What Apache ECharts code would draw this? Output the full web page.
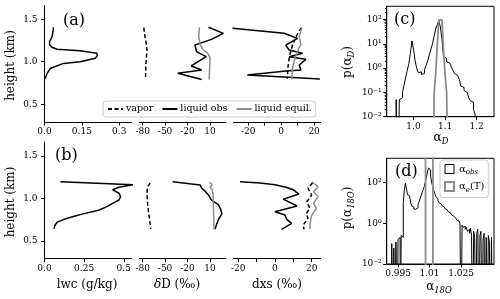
<!DOCTYPE html>
<html><head><meta charset="utf-8">
<script src="https://cdn.jsdelivr.net/npm/echarts@6/dist/echarts.min.js"></script>
<style>html,body{margin:0;padding:0;background:#fff}#c{width:500px;height:299px}</style>
</head><body><div id="c"></div>
<script>
// ---------- Panel (a) profiles: heights (km) and values ----------
const lwcA_h = [1.405,1.35,1.294,1.235,1.196,1.17,1.146,1.13,1.10,1.07,1.04,1.00,0.98,0.92,0.86,0.80];
const lwcA   = [0.036,0.034,0.030,0.020,0.021,0.030,0.050,0.143,0.210,0.212,0.204,0.143,0.076,0.023,0.010,0.003];
const vapDA_h = [1.40,1.30,1.20,1.14,1.05,0.95,0.85,0.80];
const vapDA   = [-78.5,-77,-75,-74.3,-75,-75.8,-76,-76.3];
const obsDA_h = [1.405,1.334,1.263,1.196,1.118,1.059,0.95,0.902,0.864,0.79];
const obsDA   = [8,28,12,-10,-8,5,-15,-1,-33,-1];
const eqDA_h  = [1.405,1.30,1.20,1.15,1.10,1.05,1.00,0.90,0.79];
const eqDA    = [-4,-5,-3,0,7,10,10,9.5,9];
const vapXA_h = [1.40,1.35,1.29,1.20,1.10,1.00,0.90,0.80];
const vapXA   = [12.5,10.5,9,7,5.5,4.5,4,3.8];
const obsXA_h = [1.393,1.334,1.275,1.196,1.138,1.099,1.059,1.028,0.961,0.902,0.89,0.843,0.797];
const obsXA   = [-29.5,1.8,10,2.8,4.9,13,4.9,15,11,12,3,-20.5,23.5];
const eqXA_h  = [1.40,1.36,1.30,1.20,1.15,1.05,0.98,0.90,0.79];
const eqXA    = [12.5,12,11,12,10.5,8.5,7.5,6.8,6.5];

// ---------- Panel (b) profiles ----------
const lwcB_h = [1.195,1.16,1.13,1.10,1.06,1.02,0.98,0.94,0.90,0.86,0.82,0.78,0.75,0.72,0.68,0.64];
const lwcB   = [0.10,0.56,0.47,0.43,0.47,0.48,0.47,0.43,0.39,0.34,0.25,0.17,0.12,0.08,0.065,0.06];
const vapDB_h = [1.18,1.15,1.10,1.00,0.90,0.80,0.70,0.64];
const vapDB   = [-70,-72.5,-74,-74,-73,-71.5,-70,-69];
const obsDB_h = [1.195,1.156,1.12,1.08,1.04,0.98,0.93,0.88,0.82,0.745,0.635];
const obsDB   = [-40,-3,-1,4,8,12,21,24,26,21,16.7];
const eqDB_h  = [1.19,1.16,1.13,1.10,1.06,1.00,0.80,0.635];
const eqDB    = [10,13,10,13,14,14.5,15,15.5];
const vapXB_h = [1.184,1.118,1.039,0.96,0.882,0.82,0.765,0.686,0.635];
const vapXB   = [20.5,18,20,17.3,19,17,18,15.4,15.8];
const obsXB_h = [1.195,1.18,1.16,1.13,1.10,1.05,0.99,0.91,0.843,0.804,0.753,0.706,0.635];
const obsXB   = [-19,-8,0,6,10,13,4.5,12,0,5.4,6.4,9.1,3.6];
const eqXB_h  = [1.195,1.137,1.078,1.019,0.941,0.882,0.80,0.70,0.635];
const eqXB    = [20,23.5,21,23.5,21,22.5,20,19,19];

// ---------- Panel (c) histograms of alpha_D ----------
const histC_start = 0.945, histC_width = 0.005;
const histC_obs = [0.05,0,0.05,0.06,0.1,0.2,0.4,0.8,1.5,4,13,6,2,1.0,0.65,0.7,0.55,0.6,0.9,1.3,2.0,3.5,6,10,20,40,60,90,50,16,3,2.5,1.8,1.6,1.4,1.1,0.8,0.6,0.5,0.45,0.35,0.18,0.16,0.12,0.1,0.11,0.06,0.045,0.04,0.02,0.012];
const histCeq_start = 1.065, histCeq_width = 0.005;
const histC_eq = [0.08,0.5,8,95,100,95,6,0.5,0.1];

// ---------- Panel (d) histograms of alpha_18O ----------
const histD_start = 0.990, histD_width = 0.0005;
const histD_obs = [0,0,0,0,
  0.1,0,0.06,0,0.12,0,0.16,0.2,0,0.25,0.2,
  10,40,90,50,25,22,18,10,7,6.3,5,4.8,4.5,
  5.6,8,11,16,22,32,45,63,100,180,320,500,
  400,200,100,63,40,28,20,16,12.6,10,
  9,8,7,6.3,5.6,5,4.5,4,3.5,3.2,2.8,2.5,2.2,2,1.8,1.6,1.4,1.26,1.1,1.0,
  0,0.8,0.63,0.7,0.5,0.63,0.4,0.5,0.32,0.56,0.25,0,0.4,0.2,0,0.32,0.5,0,0.25,0.4,0,0.16,0.32,0,0.2,0,0.25,0.12,0,0.2];
const histDeq_start = 1.0081, histDeq_width = 0.0035;
const histD_eq = [3000];

// ---------- ticks ----------
const yTicksProf = [0.5, 1.0, 1.5], yLabelsProf = ['0.5','1.0','1.5'];
const xTicksLwcA = [0, 0.15, 0.3], xLabelsLwcA = ['0.0','0.15','0.3'];
const xTicksLwcB = [0, 0.25, 0.5], xLabelsLwcB = ['0.0','0.25','0.5'];
const xTicksDD = [-80,-50,-20,10], xLabelsDD = ['-80','-50','-20','10'];
const xTicksDxs = [-20,-10,0,10,20], xLabValDxs = [-20,0,20], xLabelsDxs = ['-20','0','20'];
const xTicksC = [1.0,1.1,1.2], xLabelsC = ['1.0','1.1','1.2'];
const xTicksD = [0.995,1.01,1.025], xLabelsD = ['0.995','1.01','1.025'];
const yTicksC = [0.01,0.1,1,10,100], yLabelsC = ['10⁻²','10⁻¹','10⁰','10¹','10²'];
const yTicksD = [0.01,1,100], yLabelsD = ['10⁻²','10⁰','10²'];

const FONT = 'DejaVu Serif';
const BLACK = '#000';
const GRAY = '#8c8c8c';
const TICKFS = 9;

function prof(v, h) { return v.map((x, i) => [x, h[i]]); }
const FLOOR = 1e-6;
function hist(start, w, vals) {
  const pts = [[start, FLOOR]];
  vals.forEach((v, i) => {
    const y = v > 0 ? v : FLOOR;
    pts.push([start + w * i, y], [start + w * (i + 1), y]);
  });
  pts.push([start + w * vals.length, FLOOR]);
  return pts;
}
function fmt(ticks, labels, log) {
  return function (v) {
    for (let i = 0; i < ticks.length; i++) {
      const d = log ? Math.abs(Math.log10(ticks[i]) - Math.log10(v)) : Math.abs(ticks[i] - v);
      if (d < 1e-6) return labels[i];
    }
    return '';
  };
}
function xAx(gi, min, max, ticks, labVals, labels) {
  return {
    gridIndex: gi, type: 'value', min: min, max: max,
    axisLine: {show: true, onZero: false, lineStyle: {color: BLACK, width: 1}},
    axisTick: {show: true, length: 3.5, customValues: ticks, lineStyle: {color: BLACK, width: 1}},
    axisLabel: {show: true, customValues: labVals, formatter: fmt(labVals, labels, false),
      fontFamily: FONT, fontSize: TICKFS, color: BLACK, margin: 5},
    splitLine: {show: false}
  };
}
function yProf(gi, show) {
  return {
    gridIndex: gi, type: 'value', min: 0.29, max: 1.66, show: show,
    axisLine: {show: true, onZero: false, lineStyle: {color: BLACK, width: 1}},
    axisTick: {show: true, length: 3.5, customValues: yTicksProf, lineStyle: {color: BLACK}},
    axisLabel: {show: true, customValues: yTicksProf, formatter: fmt(yTicksProf, yLabelsProf, false),
      fontFamily: FONT, fontSize: TICKFS, color: BLACK, margin: 7},
    splitLine: {show: false}
  };
}
function yLog(gi, max, ticks, labels) {
  return {
    gridIndex: gi, type: 'log', logBase: 10, min: 0.01, max: max,
    axisLine: {show: true, onZero: false, lineStyle: {color: BLACK, width: 1}},
    axisTick: {show: true, length: 3.5, customValues: ticks, lineStyle: {color: BLACK}},
    axisLabel: {show: true, customValues: ticks, formatter: fmt(ticks, labels, true),
      fontFamily: FONT, fontSize: TICKFS, color: BLACK, margin: 5},
    splitLine: {show: false}
  };
}
const minorC = [];
for (let e = -2; e <= 2; e++) for (let k = 2; k <= 9; k++) { const v = k * Math.pow(10, e); if (v < 350) minorC.push(v); }

const rowH = 116.5, topA = 5.6, topB = 142.2;
const grids = [
  {left: 44.5, top: topA, width: 87.2, height: rowH},
  {left: 139.3, top: topA, width: 86.7, height: rowH},
  {left: 233.3, top: topA, width: 87.4, height: rowH},
  {left: 44.5, top: topB, width: 87.2, height: rowH},
  {left: 139.3, top: topB, width: 86.7, height: rowH},
  {left: 233.3, top: topB, width: 87.4, height: rowH},
  {left: 386.7, top: 6.3, width: 107.3, height: 110.4, show: true, borderColor: BLACK, borderWidth: 1},
  {left: 386.7, top: 158.3, width: 107.3, height: 105.7, show: true, borderColor: BLACK, borderWidth: 1}
].map(g => Object.assign({outerBoundsMode: 'none', containLabel: false}, g));

const xAxes = [
  xAx(0, 0, 0.35, xTicksLwcA, xTicksLwcA, xLabelsLwcA),
  xAx(1, -84.5, 31.5, xTicksDD, xTicksDD, xLabelsDD),
  xAx(2, -29, 24, xTicksDxs, xLabValDxs, xLabelsDxs),
  xAx(3, 0, 0.55, xTicksLwcB, xTicksLwcB, xLabelsLwcB),
  xAx(4, -84.5, 31.5, xTicksDD, xTicksDD, xLabelsDD),
  xAx(5, -22.7, 24.9, xTicksDxs, xLabValDxs, xLabelsDxs),
  xAx(6, 0.915, 1.255, xTicksC, xTicksC, xLabelsC),
  xAx(7, 0.9896, 1.0407, xTicksD, xTicksD, xLabelsD)
];
const yAxes = [
  yProf(0, true), yProf(1, false), yProf(2, false),
  yProf(3, true), yProf(4, false), yProf(5, false),
  yLog(6, 350, yTicksC, yLabelsC),
  yLog(7, 1500, yTicksD, yLabelsD),
  {gridIndex: 6, type: 'log', logBase: 10, min: 0.01, max: 350, position: 'left',
   axisLine: {show: false}, axisLabel: {show: false}, splitLine: {show: false},
   axisTick: {show: true, length: 2, customValues: minorC, lineStyle: {color: BLACK, width: 0.8}}}
];

function ln(name, gi, data, color, dashed, width) {
  return {
    type: 'line', name: name, xAxisIndex: gi, yAxisIndex: gi, data: data,
    symbol: 'none', showSymbol: false, silent: true, clip: true, animation: false,
    color: color,
    lineStyle: {color: color, width: width || 1.5, type: dashed ? [4, 2.5] : 'solid'},
    itemStyle: {color: color}
  };
}
const series = [
  ln('lwc', 0, prof(lwcA, lwcA_h), BLACK),
  ln('vapor', 1, prof(vapDA, vapDA_h), BLACK, true),
  ln('liquid obs', 1, prof(obsDA, obsDA_h), BLACK),
  ln('liquid equil.', 1, prof(eqDA, eqDA_h), GRAY),
  ln('vapor', 2, prof(vapXA, vapXA_h), BLACK, true),
  ln('liquid obs', 2, prof(obsXA, obsXA_h), BLACK),
  ln('liquid equil.', 2, prof(eqXA, eqXA_h), GRAY),
  ln('lwc', 3, prof(lwcB, lwcB_h), BLACK),
  ln('vapor', 4, prof(vapDB, vapDB_h), BLACK, true),
  ln('liquid obs', 4, prof(obsDB, obsDB_h), BLACK),
  ln('liquid equil.', 4, prof(eqDB, eqDB_h), GRAY),
  ln('vapor', 5, prof(vapXB, vapXB_h), BLACK, true),
  ln('liquid obs', 5, prof(obsXB, obsXB_h), BLACK),
  ln('liquid equil.', 5, prof(eqXB, eqXB_h), GRAY),
  ln('α_obs c', 6, hist(histC_start, histC_width, histC_obs), BLACK, false, 1),
  ln('α_e c', 6, hist(histCeq_start, histCeq_width, histC_eq), GRAY, false, 1.8),
  ln('α_obs', 7, hist(histD_start, histD_width, histD_obs), BLACK, false, 1),
  ln('α_e(T)', 7, hist(histDeq_start, histDeq_width, histD_eq), GRAY, false, 1.8)
];

const richSub = {
  r: {fontFamily: FONT, fontSize: 10, fill: BLACK, color: BLACK, lineHeight: 14, verticalAlign: 'middle'},
  s: {fontFamily: FONT, fontSize: 7, fontStyle: 'italic', fill: BLACK, color: BLACK, lineHeight: 8, verticalAlign: 'bottom'}
};
function richLbl(size) {
  return {
    r: {fontFamily: FONT, fontSize: size, fill: BLACK, lineHeight: size + 4, verticalAlign: 'middle'},
    i: {fontFamily: FONT, fontSize: size, fontStyle: 'italic', fill: BLACK, lineHeight: size + 4, verticalAlign: 'middle'},
    s: {fontFamily: FONT, fontSize: size * 0.7, fontStyle: 'italic', fill: BLACK, lineHeight: size * 0.7 + 1, verticalAlign: 'bottom'}
  };
}
function txt(x, y, text, size, align, rot) {
  return {
    type: 'text', x: x, y: y, rotation: rot || 0, silent: true, z: 100,
    style: {text: text, fontFamily: FONT, fontSize: size, fill: BLACK,
      align: align || 'center', verticalAlign: 'middle', textAlign: align || 'center', textVerticalAlign: 'middle',
      rich: richLbl(size)}
  };
}
const graphics = [
  txt(63, 21, '(a)', 16, 'left'),
  txt(55, 156, '(b)', 16, 'left'),
  txt(394, 20, '(c)', 16, 'left'),
  txt(395, 172, '(d)', 16, 'left'),
  txt(11, 65.5, 'height (km)', 12, 'center', Math.PI / 2),
  txt(11, 202, 'height (km)', 12, 'center', Math.PI / 2),
  txt(87, 285, '{r|lwc (g/kg)}', 12),
  txt(177, 285, '{i|δ}{r|D (‰)}', 12),
  txt(277, 285, '{r|dxs (‰)}', 12),
  txt(348, 62, '{r|p(}{r|α}{s|D}{r|)}', 12, 'center', Math.PI / 2),
  txt(348, 208, '{r|p(}{r|α}{s|18O}{r|)}', 12, 'center', Math.PI / 2),
  txt(441, 138, '{r|α}{s|D}', 12),
  txt(439, 287, '{r|α}{s|18O}', 12)
];

const chart = echarts.init(document.getElementById('c'), null, {renderer: 'canvas', width: 500, height: 299});
chart.setOption({
  animation: false,
  backgroundColor: '#fff',
  grid: grids,
  xAxis: xAxes,
  yAxis: yAxes,
  legend: [
    {
      data: ['vapor', 'liquid obs', 'liquid equil.'],
      left: 103, top: 101, orient: 'horizontal', selectedMode: false,
      itemWidth: 15, itemHeight: 8, itemGap: 8, padding: [3, 4, 3, 4],
      borderColor: '#cccccc', borderWidth: 1, borderRadius: 3, backgroundColor: '#fff',
      itemStyle: {color: 'rgba(0,0,0,0)', borderWidth: 0, opacity: 0},
      textStyle: {fontFamily: FONT, fontSize: 9.5, color: BLACK, padding: [0, 0, 0, -2]}
    },
    {
      data: [
        {name: 'α_obs', icon: 'rect', itemStyle: {color: '#fff', borderColor: BLACK, borderWidth: 1}},
        {name: 'α_e(T)', icon: 'rect', itemStyle: {color: '#fff', borderColor: GRAY, borderWidth: 2}}
      ],
      left: 440, top: 160, orient: 'vertical', selectedMode: false,
      itemWidth: 9, itemHeight: 9, itemGap: 5, padding: [4, 4, 4, 4],
      borderColor: '#cccccc', borderWidth: 1, borderRadius: 3, backgroundColor: '#fff',
      formatter: function (name) { return name === 'α_obs' ? '{r|α}{s|obs}' : '{r|α}{s|e}{r|(T)}'; },
      textStyle: {fontFamily: FONT, fontSize: 10, color: BLACK, rich: richSub}
    }
  ],
  graphic: graphics,
  series: series
});
</script></body></html>
